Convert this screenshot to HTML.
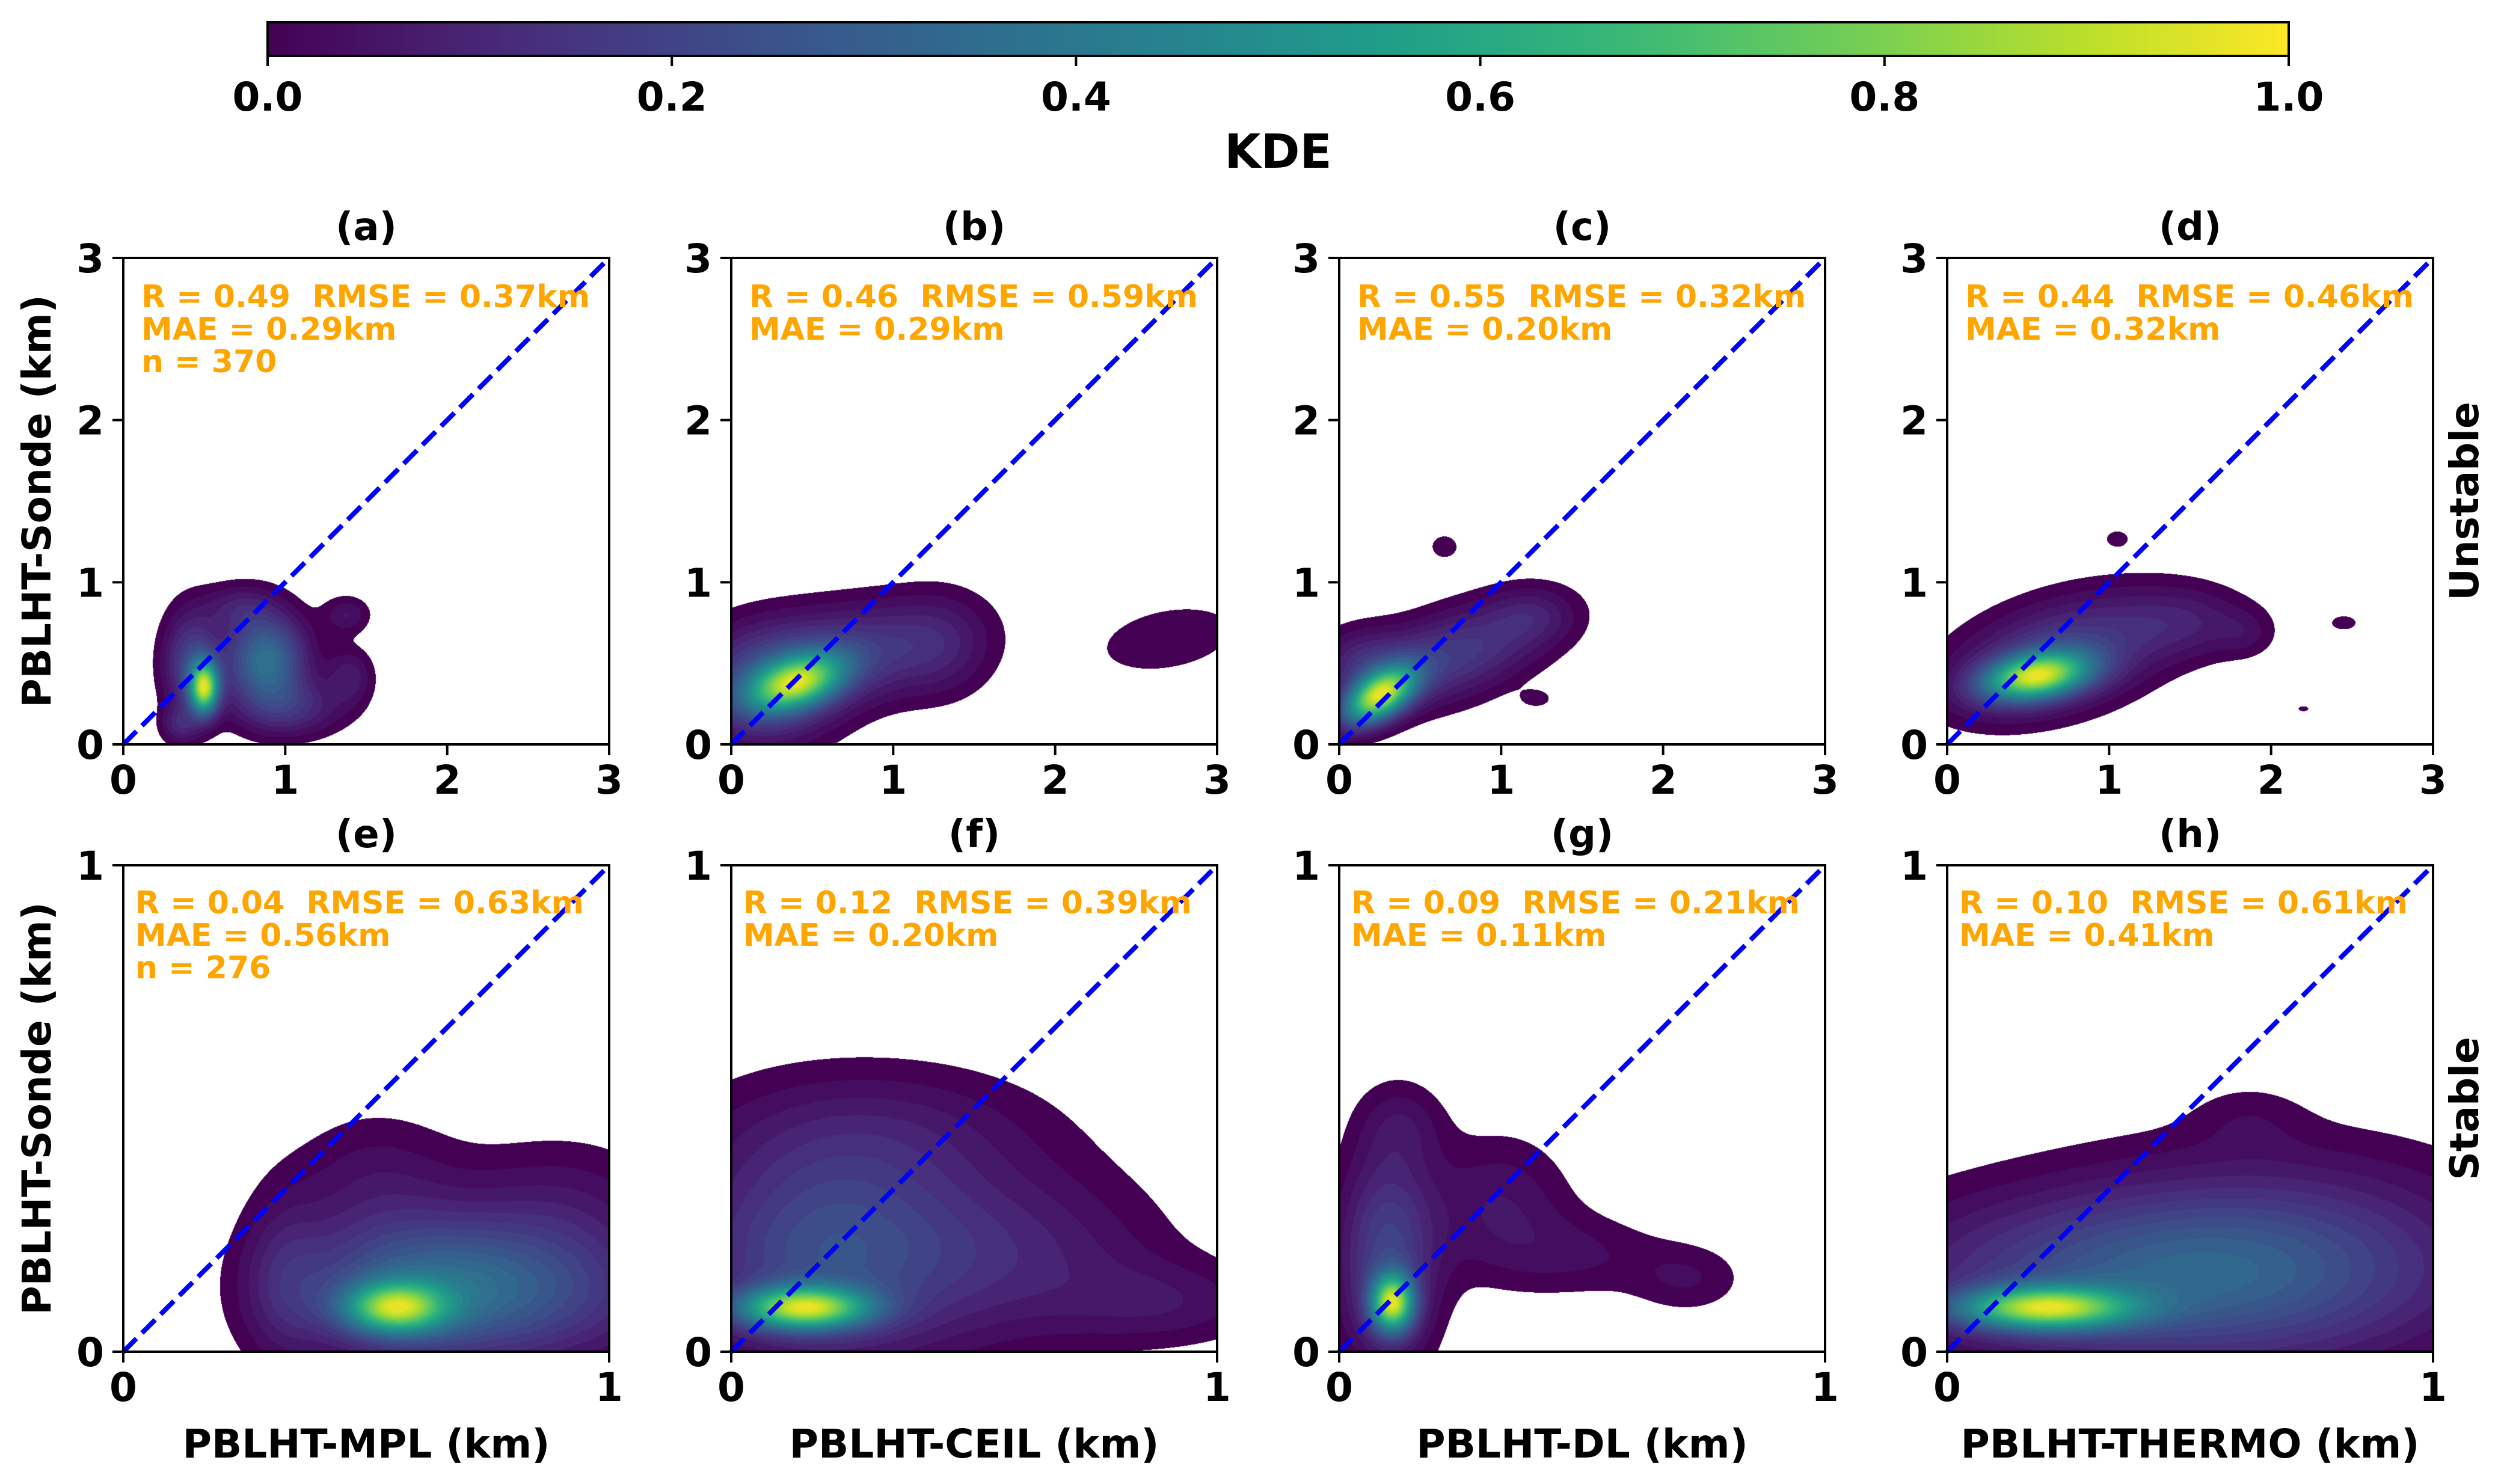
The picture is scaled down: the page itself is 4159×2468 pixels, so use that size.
<!DOCTYPE html>
<html><head><meta charset="utf-8">
<style>
html,body{margin:0;padding:0;background:#fff;}
#wrap{position:relative;width:4159px;height:2468px;overflow:hidden;}
canvas{position:absolute;}
svg{position:absolute;left:0;top:0;}
text{font-family:"DejaVu Sans","Liberation Sans",sans-serif;font-weight:bold;white-space:pre;}
</style></head>
<body>
<div id="wrap">
<svg id="svg" width="4159" height="2468"></svg>
</div>
<script>
// ---- data ----
const panelTitles = ["(a)","(b)","(c)","(d)","(e)","(f)","(g)","(h)"];
const xLabels = ["PBLHT-MPL (km)","PBLHT-CEIL (km)","PBLHT-DL (km)","PBLHT-THERMO (km)"];
const rowLabels = ["Unstable","Stable"];
const rowMax = [3, 1];
const rowTicks = [[0,1,2,3],[0,1]];
const statsR = ["0.49","0.46","0.55","0.44","0.04","0.12","0.09","0.10"];
const statsRMSE = ["0.37","0.59","0.32","0.46","0.63","0.39","0.21","0.61"];
const statsMAE = ["0.29","0.29","0.20","0.32","0.56","0.20","0.11","0.41"];
const statsN = ["370","","","","276","","",""];
const cbarTicks = [0,0.2,0.4,0.6,0.8,1.0];
// KDE components per panel: [cx, cy, sx, sy, rho, weight] in km
const kdeA = [[0.5,0.35,0.06,0.11,0,1.0],[0.88,0.52,0.17,0.2,0,0.5],[0.42,0.5,0.12,0.22,0,0.3],[1.38,0.8,0.1,0.08,0,0.12],[1.4,0.42,0.1,0.12,0,0.14],[1.05,0.22,0.22,0.12,0,0.18],[0.7,0.85,0.15,0.1,0,0.12],[0.35,0.12,0.08,0.08,0,0.15]];
const kdeB = [[0.4,0.38,0.2,0.12,0.4,1.0],[0.7,0.55,0.45,0.22,0.3,0.3],[0.2,0.35,0.3,0.25,0,0.3],[1.3,0.6,0.22,0.22,0,0.12],[2.7,0.65,0.35,0.17,0.3,0.09]];
const kdeC = [[0.25,0.3,0.15,0.12,0.5,1.0],[0.7,0.55,0.4,0.22,0.5,0.25],[0.15,0.5,0.2,0.15,0,0.15],[1.2,0.8,0.18,0.12,0,0.09],[0.65,1.22,0.07,0.06,0,0.07],[1.22,0.28,0.07,0.04,0,0.06]];
const kdeD = [[0.55,0.42,0.22,0.1,0.3,1.0],[0.7,0.55,0.45,0.25,0.4,0.3],[1.5,0.75,0.28,0.15,0,0.12],[1.85,0.68,0.12,0.1,0,0.06],[1.05,1.27,0.07,0.05,0,0.06],[2.45,0.75,0.09,0.05,0,0.06],[2.2,0.22,0.06,0.03,0,0.05]];
const kdeE = [[0.56,0.09,0.07,0.035,0,1.0],[0.6,0.13,0.18,0.1,0,0.45],[0.85,0.12,0.2,0.1,0,0.3],[0.52,0.35,0.12,0.1,0,0.12],[0.9,0.3,0.15,0.1,0,0.12],[0.33,0.15,0.06,0.12,0,0.15]];
const kdeF = [[0.15,0.09,0.09,0.03,0,1.0],[0.2,0.2,0.2,0.15,0,0.35],[0.3,0.45,0.25,0.1,0,0.12],[0.6,0.2,0.2,0.12,0,0.15],[0.9,0.1,0.15,0.06,0,0.1]];
const kdeG = [[0.11,0.1,0.03,0.04,0,1.0],[0.1,0.2,0.07,0.15,0,0.3],[0.13,0.47,0.06,0.06,0,0.08],[0.33,0.3,0.1,0.1,0,0.12],[0.5,0.2,0.12,0.06,0,0.08],[0.72,0.15,0.08,0.05,0,0.08]];
const kdeH = [[0.2,0.09,0.12,0.03,0,1.0],[0.4,0.15,0.35,0.12,0,0.35],[0.7,0.2,0.3,0.15,0,0.2],[0.62,0.48,0.08,0.05,0,0.05]];
const kdeAll = [kdeA,kdeB,kdeC,kdeD,kdeE,kdeF,kdeG,kdeH];

// ---- layout ----
const PX0 = 205, PDX = 1011, PW = 808;
const ROWY = [429, 1439], PH = 809;
const CB = {x:445, y:37, w:3361, h:56};
const VIR = [[68,1,84],[72,40,120],[62,74,137],[49,104,142],[38,130,142],[31,158,137],[53,183,121],[109,205,89],[180,222,44],[253,231,37]];
function viridis(t){t=Math.max(0,Math.min(1,t));const s=t*9,i=Math.min(8,Math.floor(s)),f=s-i;const a=VIR[i],b=VIR[i+1];return [a[0]+(b[0]-a[0])*f,a[1]+(b[1]-a[1])*f,a[2]+(b[2]-a[2])*f];}
const NS="http://www.w3.org/2000/svg";
const svg=document.getElementById('svg');
function el(tag,attrs,parent,txt){const e=document.createElementNS(NS,tag);for(const k in attrs)e.setAttribute(k,attrs[k]);if(txt!==undefined)e.textContent=txt;(parent||svg).appendChild(e);return e;}

// colorbar
const defs=el('defs',{});
const lg=el('linearGradient',{id:'vg',x1:'0',x2:'1',y1:'0',y2:'0'},defs);
for(let i=0;i<=20;i++){const c=viridis(i/20);el('stop',{offset:(i/20),'stop-color':`rgb(${c.map(Math.round).join(',')})`},lg);}
const cbg=el('g',{});

el('rect',{x:CB.x,y:CB.y,width:CB.w,height:CB.h,fill:'url(#vg)',stroke:'#000','stroke-width':4},cbg);
cbarTicks.forEach(v=>{const x=CB.x+v*CB.w;
  el('line',{x1:x,x2:x,y1:CB.y+CB.h,y2:CB.y+CB.h+17,stroke:'#000','stroke-width':4},cbg);
  const t=el('text',{x:x,y:184,'text-anchor':'middle','font-size':66},cbg,v.toFixed(1));
  });
const kt=el('text',{x:CB.x+CB.w/2,y:279,'text-anchor':'middle','font-size':78},cbg,'KDE');


for(let p=0;p<8;p++){
  const row=Math.floor(p/4),col=p%4;
  const L=PX0+col*PDX,T=ROWY[row],M=rowMax[row];
  const sx=v=>L+v/M*PW, sy=v=>T+PH-v/M*PH;
  const cv=document.createElement('canvas');cv.width=PW;cv.height=PH;
  cv.style.left=L+'px';cv.style.top=T+'px';
  
  
  document.getElementById('wrap').insertBefore(cv,svg);
  const ctx=cv.getContext('2d');const img=ctx.createImageData(PW,PH);const comps=kdeAll[p];
  const dens=new Float32Array(PW*PH);let mx=0;
  for(let j=0;j<PH;j++){const y=(PH-j-0.5)/PH*M;for(let i=0;i<PW;i++){const x=(i+0.5)/PW*M;let d=0;
    for(const c of comps){const u=(x-c[0])/c[2],w=(y-c[1])/c[3],r=c[4];const q=(u*u-2*r*u*w+w*w)/(2*(1-r*r));if(q<20)d+=c[5]*Math.exp(-q);}
    dens[j*PW+i]=d;if(d>mx)mx=d;}}
  const thr=0.035,NL=30;
  for(let k=0;k<PW*PH;k++){const d=dens[k]/mx;if(d<thr)continue;const lv=Math.floor((d-thr)/(1-thr)*NL)/NL;const c=viridis(lv);
    img.data[4*k]=c[0];img.data[4*k+1]=c[1];img.data[4*k+2]=c[2];img.data[4*k+3]=255;}
  ctx.putImageData(img,0,0);

  const g=el('g',{});
  
  
  const dl=el('line',{x1:sx(0),y1:sy(0),x2:sx(M),y2:sy(M),stroke:'#0000ff','stroke-width':8,'stroke-dasharray':'31 13'},g);
  
  el('rect',{x:L,y:T,width:PW,height:PH,fill:'none',stroke:'#000','stroke-width':4},g);
  rowTicks[row].forEach(v=>{
    el('line',{x1:sx(v),x2:sx(v),y1:T+PH,y2:T+PH+18,stroke:'#000','stroke-width':4},g);
    el('line',{x1:L-18,x2:L,y1:sy(v),y2:sy(v),stroke:'#000','stroke-width':4},g);
    const xt=el('text',{x:sx(v),y:T+PH+82,'text-anchor':'middle','font-size':66},g,String(v));
    
    const yt=el('text',{x:L-32,y:sy(v)+24,'text-anchor':'end','font-size':66},g,String(v));
    
  });
  const tt=el('text',{x:L+PW/2,y:T-30,'text-anchor':'middle','font-size':64},g,panelTitles[p]);
  
  const lines=['R = '+statsR[p]+'\u00a0\u00a0RMSE = '+statsRMSE[p]+'km','MAE = '+statsMAE[p]+'km'];
  if(statsN[p])lines.push('n = '+statsN[p]);
  const ox = row===0 ? 30 : 20, oy = row===0 ? 82 : 80;
  lines.forEach((s,i)=>{const st=el('text',{x:L+ox,y:T+oy+i*54,'font-size':52,fill:'#ffa500'},g,s);
    });
  if(col===0){const yl=el('text',{x:0,y:0,transform:`translate(84,${T+PH/2}) rotate(-90)`,'text-anchor':'middle','font-size':66},g,'PBLHT-Sonde (km)');
    }
  if(col===3){const rl=el('text',{x:0,y:0,transform:`translate(4121,${T+PH/2}) rotate(-90)`,'text-anchor':'middle','font-size':66},g,rowLabels[row]);
    }
  if(row===1){const xl=el('text',{x:L+PW/2,y:2424,'text-anchor':'middle','font-size':66},g,xLabels[col]);
    }
}
</script>
</body></html>
